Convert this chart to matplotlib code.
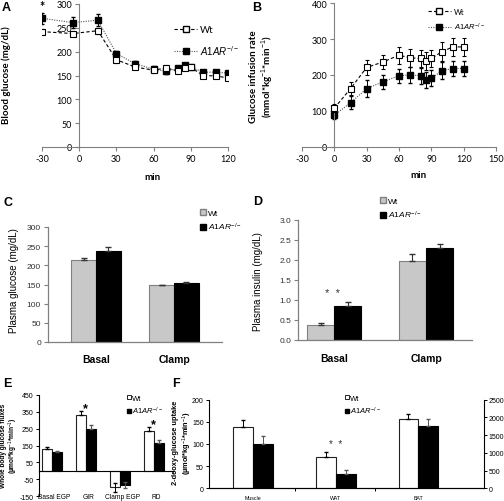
import matplotlib.pyplot as plt
from matplotlib.lines import Line2D
from matplotlib.patches import Patch

plt.rcParams['mathtext.fontset'] = 'custom'
plt.rcParams['mathtext.rm'] = 'Liberation Sans'
plt.rcParams['mathtext.it'] = 'Liberation Sans:italic'
plt.rcParams['mathtext.bf'] = 'Liberation Sans:bold'
plt.rcParams['font.family'] = 'Liberation Sans'
plt.rcParams['axes.unicode_minus'] = False

KO = r'$\mathit{A1AR}^{-/-}$'

# ---- data ----
# A: blood glucose during clamp
time_a = [-30, -5, 15, 30, 45, 60, 70, 80, 85, 90, 100, 110, 120]
a_wt = [242, 238, 244, 183, 168, 161, 166, 159, 166, 167, 150, 149, 145]
a_wt_err = [5, 6, 6, 6, 5, 5, 7, 4, 4, 4, 4, 4, 4]
a_ko = [270, 261, 266, 196, 175, 163, 159, 165, 171, 168, 157, 157, 155]
a_ko_err = [12, 12, 12, 6, 5, 6, 5, 4, 4, 3, 4, 4, 4]

# B: glucose infusion rate
time_b = [0, 15, 30, 45, 60, 70, 80, 85, 90, 100, 110, 120]
b_wt = [108, 162, 221, 236, 255, 248, 246, 238, 246, 265, 278, 278]
b_wt_err = [12, 18, 20, 20, 24, 25, 24, 25, 24, 26, 26, 26]
b_ko = [88, 123, 162, 181, 198, 200, 198, 187, 191, 212, 218, 218]
b_ko_err = [10, 18, 23, 20, 20, 22, 22, 22, 22, 24, 22, 22]

# C: plasma glucose, D: plasma insulin
cd_groups = ['Basal', 'Clamp']
c_wt = [215, 148]
c_wt_err = [5, 2]
c_ko = [238, 154]
c_ko_err = [10, 2]
d_wt = [0.38, 1.98]
d_wt_err = [0.04, 0.18]
d_ko = [0.85, 2.30]
d_ko_err = [0.10, 0.10]

# E: whole body glucose fluxes
e_groups = ['Basal EGP', 'GIR', 'Clamp EGP', 'RD']
e_wt = [128, 332, -97, 238]
e_wt_err = [12, 20, 25, 24]
e_ko = [110, 248, -83, 165]
e_ko_err = [10, 26, 20, 20]

# F: 2-deoxy-glucose uptake (Muscle on left axis, WAT/BAT on right axis)
f_groups = ['Muscle', 'WAT', 'BAT']
f_muscle_wt, f_muscle_wt_err = 139, 16
f_muscle_ko, f_muscle_ko_err = 101, 18
f_right_wt = [875, 1945]
f_right_wt_err = [160, 150]
f_right_ko = [410, 1765]
f_right_ko_err = [110, 190]

W, H = 504, 502
fig = plt.figure(figsize=(W / 100, H / 100), dpi=100)


def box(x0, y0, x1, y1):
    # pixel box (y measured from top) -> figure fraction
    return [x0 / W, 1 - y1 / H, (x1 - x0) / W, (y1 - y0) / H]


def ftext(x, y, s, **kw):
    fig.text(x / W, 1 - y / H, s, **kw)


GRAY = '#808080'

# ---------- A ----------
axA = fig.add_axes(box(42, 5, 228, 148))
axA.errorbar(time_a, a_wt, yerr=a_wt_err, color='black', ls=(0, (3, 2)), lw=0.8,
             marker='s', ms=4.5, mfc='white', mec='black', mew=0.8,
             capsize=1.5, elinewidth=0.7, zorder=3)
axA.errorbar(time_a, a_ko, yerr=a_ko_err, color='#555555', ls=(0, (1, 1.2)), lw=0.8,
             marker='s', ms=4.5, mfc='black', mec='black', ecolor='black',
             capsize=1.5, elinewidth=0.7, zorder=2)
axA.set_xlim(-30, 120)
axA.set_ylim(0, 300)
axA.set_xticks(range(-30, 121, 30))
axA.set_yticks(range(0, 301, 50))
axA.text(-30, 295, '*', ha='center', va='center', fontsize=9, fontweight='bold',
         family='Lato')

# ---------- B ----------
axB = fig.add_axes(box(302, 4, 496, 148))
axB.errorbar(time_b, b_wt, yerr=b_wt_err, color='black', ls=(0, (3, 2)), lw=0.8,
             marker='s', ms=4.5, mfc='white', mec='black', mew=0.8,
             capsize=1.5, elinewidth=0.7, zorder=3)
axB.errorbar(time_b, b_ko, yerr=b_ko_err, color='#555555', ls=(0, (1, 1.2)), lw=0.8,
             marker='s', ms=4.5, mfc='black', mec='black', ecolor='black',
             capsize=1.5, elinewidth=0.7, zorder=2)
axB.set_xlim(-30, 150)
axB.set_ylim(0, 400)
axB.set_xticks(range(-30, 151, 30))
axB.set_yticks(range(0, 401, 100))

for ax in (axA, axB):
    ax.spines['top'].set_visible(False)
    ax.spines['right'].set_visible(False)
    ax.spines['left'].set_position(('data', 0))
    for s in ('left', 'bottom'):
        ax.spines[s].set_color(GRAY)
    ax.tick_params(length=3, width=0.8, color=GRAY, labelsize=6.5, pad=2)
    for lab in ax.get_xticklabels() + ax.get_yticklabels():
        lab.set_family('Lato')
    ax.patch.set_alpha(0)

ftext(6, 75, 'Blood glucose (mg/dL)', rotation=90, ha='center', va='center',
      fontsize=7, fontweight='bold', family='Lato')
ftext(152, 177, 'min', ha='center', va='center', fontsize=7, fontweight='bold', family='Lato')
ftext(262, 77, 'Glucose infusion rate\n(mmol*kg$^{-1}$*min$^{-1}$)', rotation=90,
      ha='center', va='center', fontsize=7, fontweight='bold', family='Lato',
      linespacing=1.1)
ftext(418, 175, 'min', ha='center', va='center', fontsize=7, fontweight='bold', family='Lato')

h_wt = Line2D([], [], color='black', ls=(0, (3, 2)), lw=0.8, marker='s', ms=4.5,
              mfc='white', mec='black')
h_ko = Line2D([], [], color='#555555', ls=(0, (1, 1.2)), lw=0.8, marker='s', ms=4.5,
              mfc='black', mec='black')
legA = axA.legend([h_wt, h_ko], ['Wt', KO], loc='upper left',
                  bbox_to_anchor=(174 / W, 1 - 26 / H), bbox_transform=fig.transFigure,
                  frameon=False, fontsize=7, handlelength=2.4, handletextpad=0.3,
                  labelspacing=0.9, borderpad=0, borderaxespad=0)
for t in legA.get_texts()[:1]:
    t.set_family('Lato')
legB = axB.legend([h_wt, h_ko], ['Wt', KO], loc='upper left',
                  bbox_to_anchor=(428 / W, 1 - 9 / H), bbox_transform=fig.transFigure,
                  frameon=False, fontsize=5.5, handlelength=3.0, handletextpad=0.4,
                  labelspacing=0.8, borderpad=0, borderaxespad=0)
for t in legB.get_texts()[:1]:
    t.set_family('Lato')

# ---------- C / D ----------
def style_cd(ax):
    ax.spines['top'].set_visible(False)
    ax.spines['right'].set_visible(False)
    for s in ('left', 'bottom'):
        ax.spines[s].set_color(GRAY)
        ax.spines[s].set_linewidth(0.9)
    ax.tick_params(axis='y', length=3, width=0.8, color=GRAY, labelsize=6, pad=2,
                   labelcolor='#333333')
    ax.tick_params(axis='x', length=0)
    ax.set_xticks([])
    ax.patch.set_alpha(0)


axC = fig.add_axes(box(48, 228, 222, 343))
w = 0.32
xc = [0, 1]
axC.bar([x - w / 2 for x in xc], c_wt, w, color='#c8c8c8', edgecolor=GRAY, lw=0.8,
        yerr=[[0, 0], c_wt_err], error_kw=dict(capsize=2, elinewidth=0.8, ecolor='#333333'))
axC.bar([x + w / 2 for x in xc], c_ko, w, color='black', edgecolor='black', lw=0.8,
        yerr=[[0, 0], c_ko_err], error_kw=dict(capsize=2, elinewidth=0.8, ecolor='#333333'))
axC.set_xlim(-0.615, 1.615)
axC.set_ylim(0, 300)
axC.set_yticks(range(0, 301, 50))
style_cd(axC)
for x, g in zip(xc, cd_groups):
    axC.text(x, -0.15, g, transform=axC.get_xaxis_transform(), ha='center', va='center',
             fontsize=7.5, fontweight='bold')
ftext(14, 281, 'Plasma glucose (mg/dL)', rotation=90, ha='center', va='center', fontsize=7)
axC.legend([Patch(fc='#c8c8c8', ec=GRAY), Patch(fc='black', ec='black')], ['Wt', KO],
           loc='upper left', bbox_to_anchor=(200 / W, 1 - 210 / H),
           bbox_transform=fig.transFigure, frameon=False, fontsize=6,
           handlelength=0.7, handleheight=0.7, handletextpad=0.2, labelspacing=0.5,
           borderpad=0, borderaxespad=0)

axD = fig.add_axes(box(298, 221, 472, 341))
w = 0.296
axD.bar([x - w / 2 for x in xc], d_wt, w, color='#c8c8c8', edgecolor=GRAY, lw=0.8,
        yerr=[[0, 0], d_wt_err], error_kw=dict(capsize=2, elinewidth=0.8, ecolor='#333333'))
axD.bar([x + w / 2 for x in xc], d_ko, w, color='black', edgecolor='black', lw=0.8,
        yerr=[[0, 0], d_ko_err], error_kw=dict(capsize=2, elinewidth=0.8, ecolor='#333333'))
axD.set_xlim(-0.394, 1.5)
axD.set_ylim(0, 3.0)
axD.set_yticks([0, 0.5, 1.0, 1.5, 2.0, 2.5, 3.0])
axD.set_yticklabels(['0.0', '0.5', '1.0', '1.5', '2.0', '2.5', '3.0'])
style_cd(axD)
for x, g in zip(xc, cd_groups):
    axD.text(x, -0.15, g, transform=axD.get_xaxis_transform(), ha='center', va='center',
             fontsize=7.5, fontweight='bold')
axD.text(-0.02, 1.17, '*  *', ha='center', va='center', fontsize=8, color='#333333')
ftext(258, 282, 'Plasma insulin (mg/dL)', rotation=90, ha='center', va='center', fontsize=7)
axD.legend([Patch(fc='#c8c8c8', ec=GRAY), Patch(fc='black', ec='black')], ['Wt', KO],
           loc='upper left', bbox_to_anchor=(380 / W, 1 - 198 / H),
           bbox_transform=fig.transFigure, frameon=False, fontsize=6,
           handlelength=0.7, handleheight=0.7, handletextpad=0.2, labelspacing=0.5,
           borderpad=0, borderaxespad=0)

# ---------- E ----------
axE = fig.add_axes(box(39, 395.7, 174, 497.3))
w = 0.293
xe = list(range(len(e_groups)))
wt_lo = [e if v < 0 else 0 for v, e in zip(e_wt, e_wt_err)]
ko_lo = [e if v < 0 else 0 for v, e in zip(e_ko, e_ko_err)]
axE.bar([x - w / 2 for x in xe], e_wt, w, color='white', edgecolor='#222222', lw=0.8,
        yerr=[wt_lo, e_wt_err], error_kw=dict(capsize=1.5, elinewidth=0.7))
axE.bar([x + w / 2 for x in xe], e_ko, w, color='black', edgecolor='black', lw=0.8,
        yerr=[ko_lo, e_ko_err], error_kw=dict(capsize=1.5, elinewidth=0.7, ecolor='#555555'))
axE.set_xlim(-0.372, 3.6)
axE.set_ylim(-150, 450)
axE.set_yticks(range(-150, 451, 100))
axE.spines['top'].set_visible(False)
axE.spines['right'].set_visible(False)
axE.spines['bottom'].set_position(('data', 0))
axE.spines['left'].set_linewidth(0.8)
axE.spines['bottom'].set_linewidth(0.8)
axE.set_xticks([])
axE.tick_params(axis='y', length=2.5, width=0.7, labelsize=5, pad=1.5)
axE.patch.set_alpha(0)
for x, g in zip(xe, e_groups):
    axE.text(x + 0.08, -150, g, ha='center', va='center', fontsize=4.8)
axE.text(1, 372, '*', ha='center', va='center', fontsize=9, fontweight='bold')
axE.text(3, 275, '*', ha='center', va='center', fontsize=9, fontweight='bold')
ftext(10, 446, 'Whole body glucose fluxes\n(µmol*kg$^{-1}$*min$^{-1}$)', rotation=90,
      ha='center', va='center', fontsize=4.7, fontweight='bold', linespacing=1.0)
axE.legend([Patch(fc='white', ec='black', lw=0.6), Patch(fc='black', ec='black')], ['Wt', KO],
           loc='upper left', bbox_to_anchor=(127 / W, 1 - 396 / H),
           bbox_transform=fig.transFigure, frameon=False, fontsize=5.5,
           handlelength=0.5, handleheight=0.5, handletextpad=0.15, labelspacing=0.4,
           borderpad=0, borderaxespad=0)

# ---------- F ----------
axF = fig.add_axes(box(209.3, 400.7, 484, 489.3))
axF2 = axF.twinx()
w = 0.24
axF.bar([-w / 2], [f_muscle_wt], w, color='white', edgecolor='#222222', lw=0.8,
        yerr=[[0], [f_muscle_wt_err]], error_kw=dict(capsize=1.5, elinewidth=0.7))
axF.bar([w / 2], [f_muscle_ko], w, color='black', edgecolor='black', lw=0.8,
        yerr=[[0], [f_muscle_ko_err]], error_kw=dict(capsize=1.5, elinewidth=0.7, ecolor='#555555'))
xr = [1, 2]
axF2.bar([x - w / 2 for x in xr], f_right_wt, w, color='white', edgecolor='#222222', lw=0.8,
         yerr=[[0, 0], f_right_wt_err], error_kw=dict(capsize=1.5, elinewidth=0.7))
axF2.bar([x + w / 2 for x in xr], f_right_ko, w, color='black', edgecolor='black', lw=0.8,
         yerr=[[0, 0], f_right_ko_err], error_kw=dict(capsize=1.5, elinewidth=0.7, ecolor='#555555'))
axF.set_xlim(-0.533, 2.796)
axF.set_ylim(0, 200)
axF.set_yticks(range(0, 201, 50))
axF2.set_ylim(0, 2500)
axF2.set_yticks(range(0, 2501, 500))
for a in (axF, axF2):
    a.spines['top'].set_visible(False)
    for s in a.spines.values():
        s.set_linewidth(0.8)
axF.spines['right'].set_visible(False)
axF2.spines['left'].set_visible(False)
axF.tick_params(axis='y', length=2.5, width=0.7, labelsize=5, pad=1.5)
axF2.tick_params(axis='y', length=2.5, width=0.7, labelsize=5, pad=1)
axF.set_xticks([0, 1, 2])
axF.set_xticklabels(f_groups, fontsize=3.8)
axF.tick_params(axis='x', which='major', length=0, pad=5)
axF.set_xticks([0.5, 1.48], minor=True)
axF.tick_params(axis='x', which='minor', length=2, width=0.7)
axF.text(1.0, 100, '*  *', ha='center', va='center', fontsize=7, color='#333333')
ftext(183, 443, '2-deoxy-glucose uptake\n(µmol*kg$^{-1}$*min$^{-1}$)', rotation=90,
      ha='center', va='center', fontsize=5.3, fontweight='bold', linespacing=1.1)
axF2.legend([Patch(fc='white', ec='black', lw=0.6), Patch(fc='black', ec='black')], ['Wt', KO],
            loc='upper left', bbox_to_anchor=(345 / W, 1 - 396 / H),
            bbox_transform=fig.transFigure, frameon=False, fontsize=5.5,
            handlelength=0.5, handleheight=0.5, handletextpad=0.15, labelspacing=0.4,
            borderpad=0, borderaxespad=0)

# ---------- panel letters ----------
for x, y, s in [(2, 8, 'A'), (252, 8, 'B'), (3, 203, 'C'), (253, 202, 'D'),
                (3, 384, 'E'), (172, 384, 'F')]:
    ftext(x, y, s, ha='left', va='center', fontsize=9, fontweight='bold')

fig.savefig('out.png', dpi=100)
